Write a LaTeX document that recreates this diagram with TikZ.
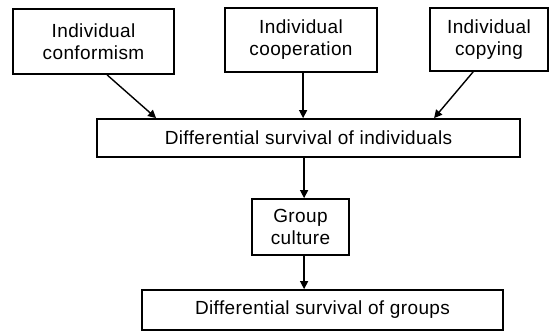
\documentclass[tikz,border=0pt]{standalone}
\usepackage{fontspec}
\setmainfont[LetterSpace=2]{Liberation Sans}
\usetikzlibrary{arrows.meta,calc}
\begin{document}
\begin{tikzpicture}[x=1pt,y=-1pt,
  box/.style={draw=black,line width=1.8pt,rectangle,inner sep=0pt,align=center,
    font=\fontsize{19}{22}\selectfont},
  conn/.style={draw=black,line width=1.4pt,-{Triangle[length=8pt,width=8pt]}}]
\useasboundingbox[fill=white] (0,0) rectangle (550,332);
\node[box,minimum width=161pt,minimum height=65pt] (b1) at (93.5,41.5) {Individual\\conformism};
\node[box,minimum width=152pt,minimum height=64pt] (b2) at (301,40) {Individual\\cooperation};
\node[box,minimum width=118pt,minimum height=63pt] (b3) at (489,39.5) {Individual\\copying};
\node[box,minimum width=423pt,minimum height=38pt] (b4) at (308.5,138) {Differential survival of individuals};
\node[box,minimum width=97pt,minimum height=56pt] (g) at (300.5,227) {Group\\culture};
\node[box,minimum width=361pt,minimum height=40pt] (b5) at (322.5,310) {Differential survival of groups};
\draw[conn] ($(b1.south west)+(95,0)$) -- ($(b4.north west)+(60,0)$);
\draw[conn] ($(b2.south west)+(79,0)$) -- ($(b4.north west)+(207,0)$);
\draw[conn] ($(b3.south west)+(44,0)$) -- ($(b4.north west)+(338,0)$);
\draw[conn] ($(b4.south west)+(208,0)$) -- ($(g.north west)+(53,0)$);
\draw[conn] ($(g.south west)+(53,0)$) -- ($(b5.north west)+(163,0)$);
\end{tikzpicture}
\end{document}
